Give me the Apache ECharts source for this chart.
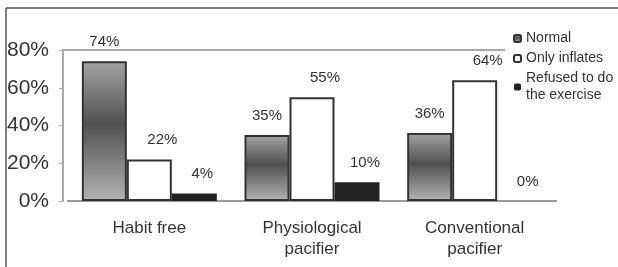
<!DOCTYPE html>
<html>
<head>
<meta charset="utf-8">
<script src="https://cdn.jsdelivr.net/npm/echarts@6/dist/echarts.min.js"></script>
<style>
  html, body { margin: 0; padding: 0; background: #fff; }
  #chart { width: 618px; height: 267px; }
</style>
</head>
<body>
<div id="chart"></div>
<script>
// categories and values
const categories = ['Habit free', 'Physiological\npacifier', 'Conventional\npacifier'];
const normal = [74, 35, 36];
const onlyInflates = [22, 55, 64];
const refused = [4, 10, 0];
const yTicks = [0, 20, 40, 60, 80];

const chart = echarts.init(document.getElementById('chart'));

const font = 'Liberation Sans, Arial, sans-serif';
const labelStyle = {
  show: true,
  position: 'top',
  distance: 12,
  fontSize: 15,
  fontFamily: font,
  color: '#333',
  formatter: '{c}%'
};

chart.setOption({
  animation: false,
  grid: {left: 68, right: 62, top: 50, bottom: 66},
  legend: {
    orient: 'vertical',
    left: 508,
    top: 25,
    itemWidth: 7,
    itemHeight: 7,
    itemGap: 3,
    textStyle: {fontSize: 14, fontFamily: font, color: '#333', lineHeight: 17},
    data: ['Normal', 'Only inflates', 'Refused to do\nthe exercise']
  },
  xAxis: {
    type: 'category',
    data: categories,
    axisLine: {lineStyle: {color: '#999', width: 2}},
    axisTick: {show: false},
    axisLabel: {fontSize: 17, fontFamily: font, color: '#333', margin: 17, lineHeight: 21}
  },
  yAxis: {
    type: 'value',
    min: yTicks[0],
    max: yTicks[yTicks.length - 1],
    interval: 20,
    offset: 5,
    axisLine: {show: true, lineStyle: {color: '#aaa', width: 2}},
    axisTick: {show: true, length: 4, lineStyle: {color: '#aaa'}},
    splitLine: {show: false},
    axisLabel: {formatter: '{value}%', fontSize: 21, fontFamily: font, color: '#333', margin: 14}
  },
  graphic: [
    // outer frame (top and left)
    {type: 'line', shape: {x1: 6, y1: 8, x2: 618, y2: 8}, style: {stroke: '#555', lineWidth: 1.5}},
    {type: 'line', shape: {x1: 6, y1: 8, x2: 6, y2: 267}, style: {stroke: '#555', lineWidth: 1.5}},
    // plot area top line
    {type: 'line', shape: {x1: 62, y1: 50, x2: 505, y2: 50}, style: {stroke: '#aaa', lineWidth: 2}}
  ],
  series: [
    {
      name: 'Normal',
      type: 'bar',
      data: normal,
      barWidth: 45,
      barGap: '0%',
      itemStyle: {
        color: new echarts.graphic.LinearGradient(0, 0, 0, 1, [
          {offset: 0, color: '#a4a4a4'},
          {offset: 0.45, color: '#505050'},
          {offset: 1, color: '#b4b4b4'}
        ]),
        borderColor: '#333',
        borderWidth: 2
      },
      label: labelStyle
    },
    {
      name: 'Only inflates',
      type: 'bar',
      data: onlyInflates,
      barWidth: 45,
      barGap: '0%',
      itemStyle: {color: '#fff', borderColor: '#333', borderWidth: 2},
      label: Object.assign({}, labelStyle, {offset: [13, 0]})
    },
    {
      name: 'Refused to do\nthe exercise',
      type: 'bar',
      data: refused,
      barWidth: 45,
      barGap: '0%',
      itemStyle: {color: '#222', borderWidth: 0},
      label: Object.assign({}, labelStyle, {offset: [8, 0]})
    }
  ]
});
</script>
</body>
</html>
